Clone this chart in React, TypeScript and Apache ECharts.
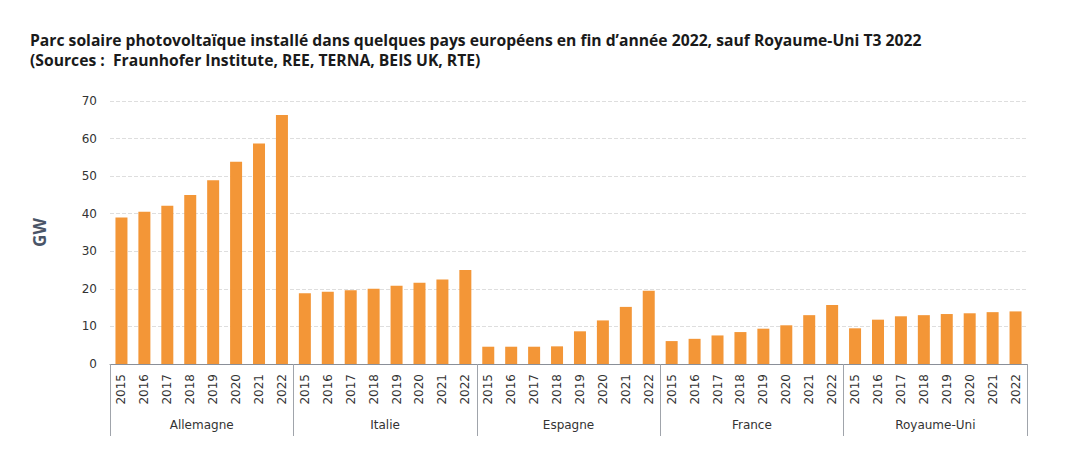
import React, { useEffect, useRef } from "react";
import * as echarts from "echarts";

const years = ["2015", "2016", "2017", "2018", "2019", "2020", "2021", "2022"];
const countries = ["Allemagne", "Italie", "Espagne", "France", "Royaume-Uni"];
const allemagne = [39.0, 40.5, 42.1, 45.0, 48.9, 53.8, 58.7, 66.3];
const italie = [18.8, 19.2, 19.6, 20.0, 20.8, 21.6, 22.5, 25.0];
const espagne = [4.6, 4.6, 4.6, 4.7, 8.7, 11.6, 15.2, 19.5];
const france = [6.1, 6.7, 7.6, 8.5, 9.4, 10.3, 13.0, 15.7];
const royaumeUni = [9.5, 11.8, 12.7, 13.0, 13.3, 13.5, 13.8, 14.0];
const yTicks = { min: 0, max: 70, interval: 10 };

const titleText =
  "Parc solaire photovoltaïque installé dans quelques pays européens en fin d’année 2022, sauf Royaume-Uni T3 2022\n(Sources :  Fraunhofer Institute, REE, TERNA, BEIS UK, RTE)";

export default function App() {
  const ref = useRef<HTMLDivElement>(null);
  useEffect(() => {
    if (!ref.current) return;
    const chart = echarts.init(ref.current, null, { renderer: "svg" });
    const groups = [allemagne, italie, espagne, france, royaumeUni];
    const cats: string[] = [];
    const values: number[] = [];
    groups.forEach((g) => {
      g.forEach((v, i) => {
        cats.push(years[i]);
        values.push(v);
      });
    });
    chart.setOption({
      animation: false,
      title: {
        text: titleText,
        left: 25,
        top: 25,
        textStyle: {
          fontFamily: "Open Sans",
          fontWeight: "bold",
          fontSize: 15.7,
          lineHeight: 20,
          color: "#1a1a1a",
        },
      },
      grid: { left: 110, right: 63, top: 101, bottom: 103, containLabel: false },
      xAxis: [
        {
          type: "category",
          data: cats,
          gridIndex: 0,
          position: "bottom",
          axisLine: { show: true, lineStyle: { color: "#8a8f98", width: 1 } },
          axisTick: { show: false },
          axisLabel: {
            interval: 0,
            rotate: 90,
            margin: 10,
            fontFamily: "DejaVu Sans",
            fontSize: 12,
            color: "#333",
          },
        },
        {
          type: "category",
          data: countries,
          gridIndex: 0,
          position: "bottom",
          offset: 0,
          axisLine: { show: false },
          axisTick: {
            show: true,
            length: 72,
            interval: 0,
            lineStyle: { color: "#a0a4ab", width: 1 },
          },
          axisLabel: {
            interval: 0,
            margin: 55,
            fontFamily: "DejaVu Sans",
            fontSize: 12,
            color: "#333",
          },
        },
      ],
      yAxis: {
        type: "value",
        min: yTicks.min,
        max: yTicks.max,
        interval: yTicks.interval,
        name: "GW",
        nameLocation: "middle",
        nameGap: 62,
        nameTextStyle: {
          fontFamily: "Open Sans",
          fontWeight: "bold",
          fontSize: 17,
          color: "#4a5568",
        },
        axisLine: { show: false },
        axisTick: { show: false },
        axisLabel: {
          margin: 13,
          fontFamily: "DejaVu Sans",
          fontSize: 12,
          color: "#333",
        },
        splitLine: { lineStyle: { color: "#dedede", type: "dashed" } },
      },
      series: [
        {
          type: "bar",
          xAxisIndex: 0,
          data: values,
          barWidth: 12,
          itemStyle: { color: "#f39637" },
        },
      ],
    });
    return () => chart.dispose();
  }, []);
  return (
    <div
      ref={ref}
      style={{ position: "fixed", left: 0, top: 0, width: 1090, height: 467, background: "#fff" }}
    />
  );
}
